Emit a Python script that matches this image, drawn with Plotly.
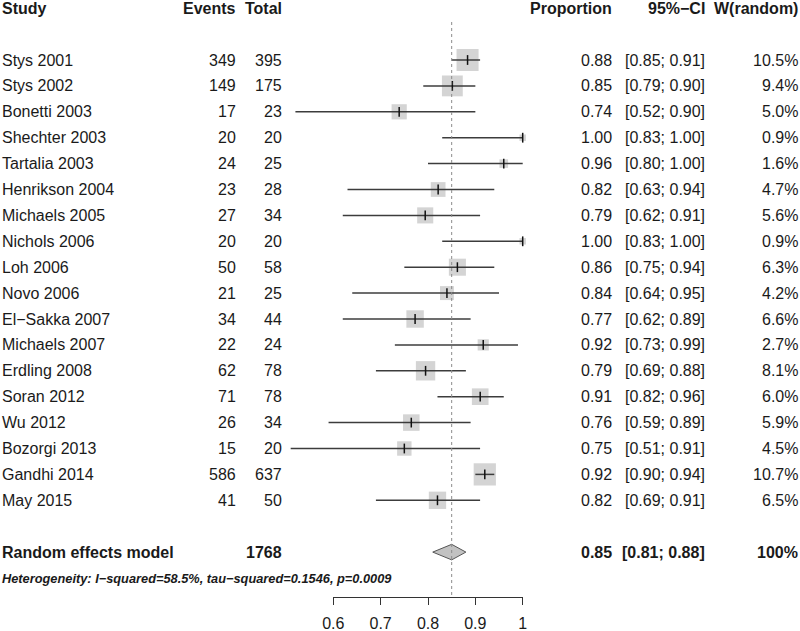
import plotly.graph_objects as go
import math

studies = ["Stys 2001", "Stys 2002", "Bonetti 2003", "Shechter 2003", "Tartalia 2003",
           "Henrikson 2004", "Michaels 2005", "Nichols 2006", "Loh 2006", "Novo 2006",
           "El\u2212Sakka 2007", "Michaels 2007", "Erdling 2008", "Soran 2012", "Wu 2012",
           "Bozorgi 2013", "Gandhi 2014", "May 2015"]
events = [349, 149, 17, 20, 24, 23, 27, 20, 50, 21, 34, 22, 62, 71, 26, 15, 586, 41]
totals = [395, 175, 23, 20, 25, 28, 34, 20, 58, 25, 44, 24, 78, 78, 34, 20, 637, 50]
prop = [0.88, 0.85, 0.74, 1.00, 0.96, 0.82, 0.79, 1.00, 0.86, 0.84, 0.77, 0.92, 0.79, 0.91, 0.76, 0.75, 0.92, 0.82]
ci_lo = [0.85, 0.79, 0.52, 0.83, 0.80, 0.63, 0.62, 0.83, 0.75, 0.64, 0.62, 0.73, 0.69, 0.82, 0.59, 0.51, 0.90, 0.69]
ci_hi = [0.91, 0.90, 0.90, 1.00, 1.00, 0.94, 0.91, 1.00, 0.94, 0.95, 0.89, 0.99, 0.88, 0.96, 0.89, 0.91, 0.94, 0.91]
weights = [10.5, 9.4, 5.0, 0.9, 1.6, 4.7, 5.6, 0.9, 6.3, 4.2, 6.6, 2.7, 8.1, 6.0, 5.9, 4.5, 10.7, 6.5]

re_total = 1768
re_est, re_lo, re_hi = 0.85, 0.81, 0.88
heterogeneity = "Heterogeneity: I\u2212squared=58.5%, tau\u2212squared=0.1546, p=0.0009"
tick_vals = [0.6, 0.7, 0.8, 0.9, 1.0]
tick_text = ["0.6", "0.7", "0.8", "0.9", "1"]

W, H = 800, 631
FONT = "Liberation Sans, Arial, sans-serif"
TXT = "#1a1a1a"

# layout geometry (pixels)
row0_px, row_h = 60.0, 25.9
x06_px, x10_px = 333.3, 522.7
axis_px = 597.0
px_per_unit = (x10_px - x06_px) / 0.4
xr = [0.6 - x06_px / px_per_unit, 0.6 + (W - x06_px) / px_per_unit]
yr = [(H - row0_px) / row_h, -row0_px / row_h]

n = len(studies)
rows = list(range(n))
header_row = -2
re_row = n + 1
het_row = n + 2
axis_row = (axis_px - row0_px) / row_h
ref_top_row = (22 - row0_px) / row_h

fig = go.Figure()

# squares
fig.add_trace(go.Scatter(
    x=[e / t for e, t in zip(events, totals)], y=rows, mode="markers",
    marker=dict(symbol="square", color="#c2c2c2",
                size=[6.8 * math.sqrt(w) for w in weights], line=dict(width=0)),
    hoverinfo="skip", showlegend=False))

# CI lines
cx, cy = [], []
for lo, hi, r in zip(ci_lo, ci_hi, rows):
    cx += [lo, hi, None]
    cy += [r, r, None]
fig.add_trace(go.Scatter(x=cx, y=cy, mode="lines", line=dict(color="#3c3c3c", width=1.5),
                         hoverinfo="skip", showlegend=False))

# point ticks
fig.add_trace(go.Scatter(
    x=[e / t for e, t in zip(events, totals)], y=rows, mode="markers",
    marker=dict(symbol="line-ns-open", size=7, color="#111111",
                line=dict(color="#111111", width=1.5)),
    hoverinfo="skip", showlegend=False))

# diamond
dh = 0.3
fig.add_trace(go.Scatter(
    x=[re_lo, re_est, re_hi, re_est, re_lo],
    y=[re_row, re_row - dh, re_row, re_row + dh, re_row],
    mode="lines", fill="toself", fillcolor="#c2c2c2",
    line=dict(color="#555555", width=1), hoverinfo="skip", showlegend=False))

# reference dotted line on the display axis
fig.add_trace(go.Scatter(
    x=[re_est, re_est], y=[ref_top_row, axis_row], xaxis="x2", mode="lines",
    line=dict(color="#8c8c8c", width=1, dash="dot"), hoverinfo="skip", showlegend=False))

ann = []
def txt(xpx, row, s, anchor="left", bold=False, size=16, italic=False):
    if bold:
        s = "<b>" + s + "</b>"
    if italic:
        s = "<i>" + s + "</i>"
    ann.append(dict(x=xpx / W, y=row, xref="paper", yref="y", text=s, showarrow=False,
                    xanchor=anchor, yanchor="middle",
                    font=dict(family=FONT, size=size, color=TXT)))

col_study, col_ev, col_tot, col_prop, col_ci, col_w = 0, 238, 284, 614, 707, 800
# headers
txt(col_study, header_row, "Study", bold=True)
txt(col_ev, header_row, "Events", "right", bold=True)
txt(col_tot, header_row, "Total", "right", bold=True)
txt(col_prop, header_row, "Proportion", "right", bold=True)
txt(col_ci, header_row, "95%\u2212CI", "right", bold=True)
txt(col_w, header_row, "W(random)", "right", bold=True)

for i in range(n):
    txt(col_study, i, studies[i])
    txt(col_ev, i, str(events[i]), "right")
    txt(col_tot, i, str(totals[i]), "right")
    txt(col_prop, i, f"{prop[i]:.2f}", "right")
    txt(col_ci, i, f"[{ci_lo[i]:.2f}; {ci_hi[i]:.2f}]", "right")
    txt(col_w, i, f"{weights[i]:.1f}%", "right")

txt(col_study, re_row, "Random effects model", bold=True)
txt(col_tot, re_row, str(re_total), "right", bold=True)
txt(col_prop, re_row, f"{re_est:.2f}", "right", bold=True)
txt(col_ci, re_row, f"[{re_lo:.2f}; {re_hi:.2f}]", "right", bold=True)
txt(col_w, re_row, "100%", "right", bold=True)
txt(col_study, het_row, heterogeneity, bold=True, italic=True, size=12.8)

fig.update_layout(
    template="none",
    width=W, height=H, margin=dict(l=0, r=0, t=0, b=0, pad=0, autoexpand=False),
    paper_bgcolor="white", plot_bgcolor="rgba(0,0,0,0)",
    showlegend=False, annotations=ann,
    xaxis=dict(range=xr, visible=False, fixedrange=True, automargin=False),
    yaxis=dict(range=yr, visible=False, fixedrange=True, automargin=False),
    xaxis2=dict(domain=[x06_px / W, x10_px / W], range=[0.6, 1.0], anchor="free",
                position=1 - axis_px / H, side="bottom", automargin=False,
                showline=True, linecolor="#333", linewidth=1,
                ticks="outside", ticklen=7, tickcolor="#333", tickwidth=1,
                ticklabelstandoff=5,
                tickvals=tick_vals, ticktext=tick_text, showgrid=False, zeroline=False,
                tickfont=dict(family=FONT, size=16, color=TXT), fixedrange=True),
)

fig.write_html("out.html", config={"displayModeBar": False},
               post_script="document.body.style.margin='0';")
